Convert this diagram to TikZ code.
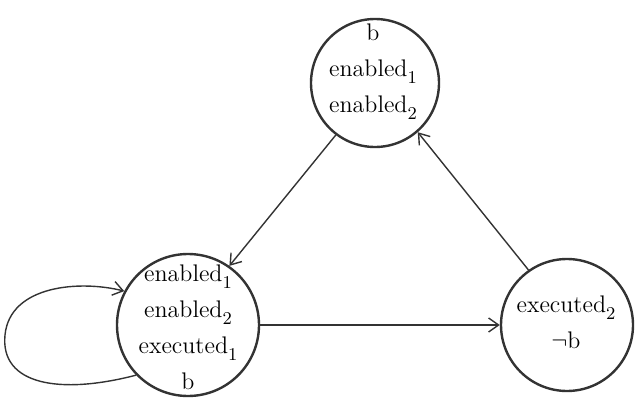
\documentclass[tikz,border=0pt]{standalone}
\usetikzlibrary{arrows.meta}
% lowered numeric subscript
\newcommand{\lowsub}[1]{\raisebox{-3.5pt}{\fontsize{9}{9}\selectfont #1}}
\begin{document}
\begin{tikzpicture}[x=0.5pt,y=-0.5pt,
  state/.style={circle,draw=black!80,line width=1.2pt,inner sep=0pt,minimum size=#1},
  statetext/.style={align=center,inner sep=0pt,font=\fontsize{12}{18}\selectfont},
  trans/.style={draw=black!80,line width=0.7pt,-{Straight Barb[length=5pt,width=7pt]}}]
\useasboundingbox (0,0) rectangle (637,412);
% states
\node[state=64pt] (top) at (375,83) {};
\node[state=71pt] (left) at (188,325) {};
\node[state=66pt] (right) at (567,325) {};
% state labels
\node[statetext] (ttop) at (373,72) {b\\enabled\lowsub{1}\\enabled\lowsub{2}};
\node[statetext] (tleft) at (188,327) {enabled\lowsub{1}\\enabled\lowsub{2}\\executed\lowsub{1}\\b};
\node[statetext] (tright) at (566,322) {executed\lowsub{2}\\$\neg$b};
% transitions
\draw[trans] (top.233) -- (left.55);
\draw[trans] (right.125) -- (top.311);
\draw[trans] (left.0) -- (right.180);
\draw[trans] (left.224) .. controls (60,395) and (0,385) .. (5,335)
  .. controls (10,285) and (80,280) .. (left.152);
\end{tikzpicture}
\end{document}
